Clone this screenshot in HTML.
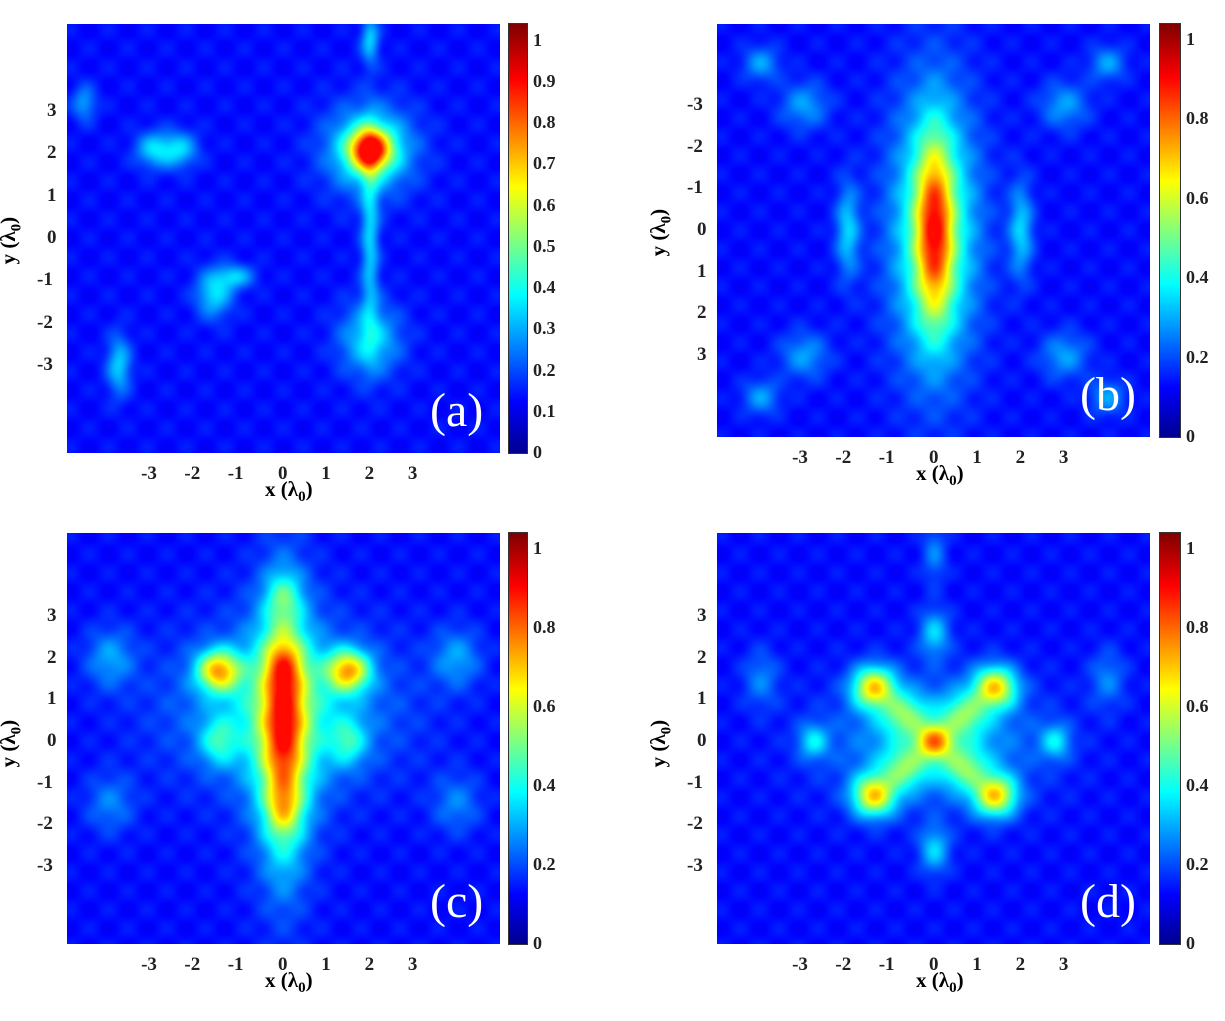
<!DOCTYPE html>
<html><head><meta charset="utf-8"><style>
body{margin:0;background:#fff;width:1225px;height:1021px;overflow:hidden;position:relative;font-family:"Liberation Serif",serif;}
#root div{position:absolute}
.tick{font-weight:bold;font-size:19px;color:#222;white-space:nowrap}
.cbt{font-size:18px;color:#222;font-weight:bold}
.lab{font-weight:bold;font-size:21px;white-space:nowrap}
.plab{color:#fff;font-size:48px}
canvas{position:absolute}
</style></head><body>
<div id="root"></div>
<script>
// panel data: blobs [x, y, amplitude, sigmaX, sigmaY] in lambda units
const blobsA=[[2,2.1,0.6,0.33,0.33],[2,2.1,0.3,0.7,0.7],[2,0,0.2,0.15,1.5],[2,-2.4,0.22,0.5,0.6],[-1.6,-1.3,0.22,0.3,0.4],[-1.1,-0.9,0.18,0.3,0.2],[-3,2.1,0.2,0.3,0.3],[-2.4,2.1,0.2,0.3,0.3],[-3.8,-3,0.2,0.2,0.5],[2,4.7,0.2,0.15,0.4],[-4.6,3.2,0.15,0.2,0.3]];
const blobsB=[[0,0,0.45,0.3,1.5],[0,0,0.35,0.7,2.3],[-2,0,0.2,0.2,0.8],[2,0,0.2,0.2,0.8],[-3,-3,0.15,0.4,0.4],[3,-3,0.15,0.4,0.4],[-3,3,0.15,0.4,0.4],[3,3,0.15,0.4,0.4],[-4,-4,0.15,0.3,0.3],[4,-4,0.15,0.3,0.3],[-4,4,0.15,0.3,0.3],[4,4,0.15,0.3,0.3]];
const blobsC=[[0,0.2,0.38,0.33,2.0],[0,1.8,0.15,0.3,0.4],[0,-1.6,0.15,0.3,0.4],[0,0.3,0.25,0.6,2.3],[-1.5,1.7,0.5,0.35,0.35],[1.5,1.7,0.5,0.35,0.35],[0,0.8,0.2,1.8,1.3],[-1.5,0,0.2,0.3,0.4],[1.5,0,0.2,0.3,0.4],[0,3.5,0.15,0.3,0.4],[-4,2,0.15,0.4,0.5],[4,2,0.15,0.4,0.5],[-4,-1.5,0.12,0.4,0.5],[4,-1.5,0.12,0.4,0.5]];
const blobsD=[[-1.4,1.3,0.5,0.35,0.35],[1.4,1.3,0.5,0.35,0.35],[-1.4,-1.3,0.5,0.35,0.35],[1.4,-1.3,0.5,0.35,0.35],[0,0,0.45,0.3,0.3],[-0.7,0.65,0.25,0.35,0.35],[0.7,0.65,0.25,0.35,0.35],[-0.7,-0.65,0.25,0.35,0.35],[0.7,-0.65,0.25,0.35,0.35],[0,0,0.2,1.6,1.0],[0,2.6,0.2,0.25,0.4],[0,-2.6,0.2,0.25,0.4],[-2.8,0,0.2,0.25,0.3],[2.8,0,0.2,0.25,0.3],[0,4.5,0.12,0.2,0.5],[-4,1.5,0.12,0.3,0.5],[4,1.5,0.12,0.3,0.5]];
const xTicks=[-3,-2,-1,0,1,2,3];
const yTicks=[3,2,1,0,-1,-2,-3];
const cbTicksA=[0,0.1,0.2,0.3,0.4,0.5,0.6,0.7,0.8,0.9,1];
const cbTicksB=[0,0.2,0.4,0.6,0.8,1];
const panels=[
 {id:'a',blobs:blobsA,x:67,y:24,w:433,h:429,cbx:509,cb:cbTicksA,flip:false,yt:[3,2,1,0,-1,-2,-3],cx:283,cy:238},
 {id:'b',blobs:blobsB,x:717,y:24,w:433,h:413,cbx:1160,cb:cbTicksB,flip:true,yt:[-3,-2,-1,0,1,2,3],cx:934,cy:230},
 {id:'c',blobs:blobsC,x:67,y:533,w:433,h:411,cbx:509,cb:cbTicksB,flip:false,yt:yTicks,cx:283,cy:741},
 {id:'d',blobs:blobsD,x:717,y:533,w:433,h:411,cbx:1160,cb:cbTicksB,flip:false,yt:yTicks,cx:934,cy:741}];
function jet(v){v=Math.max(0,Math.min(1,v));const r=Math.min(1,Math.max(0,1.5-Math.abs(4*v-3)));const g=Math.min(1,Math.max(0,1.5-Math.abs(4*v-2)));const b=Math.min(1,Math.max(0,1.5-Math.abs(4*v-1)));return [r*255|0,g*255|0,b*255|0];}
const root=document.getElementById('root');
function el(tag,cls,css,txt){const e=document.createElement(tag);if(cls)e.className=cls;Object.assign(e.style,css);if(txt!==undefined)e.innerHTML=txt;root.appendChild(e);return e;}
panels.forEach(p=>{
 const sx=43.3; const sy=(p.id==='a'?42.3:41.7);
 const xs=v=>p.cx+v*sx; const ys=v=>p.cy+(p.flip?v:-v)*sy;
 const c=el('canvas','',{left:p.x+'px',top:p.y+'px'});c.width=p.w;c.height=p.h;
 
 const ctx=c.getContext('2d');const img=ctx.createImageData(p.w,p.h);
 for(let j=0;j<p.h;j++)for(let i=0;i<p.w;i++){
  const lx=(p.x+i-p.cx)/sx; let ly=-(p.y+j-p.cy)/sy; if(p.flip)ly=-ly;
  let v=0.14+0.02*Math.cos(lx*7)*Math.cos(ly*7);
  p.blobs.forEach(b=>{v+=b[2]*Math.exp(-((lx-b[0])**2/(2*b[3]*b[3])+(ly-b[1])**2/(2*b[4]*b[4])));});
  v=Math.min(v,0.9);
  const col=jet(v/1.04);const k=(j*p.w+i)*4;img.data[k]=col[0];img.data[k+1]=col[1];img.data[k+2]=col[2];img.data[k+3]=255;}
 ctx.putImageData(img,0,0);
 const cbw=p.id==='a'||p.id==='c'?18:20;
 const cb=el('div','',{left:p.cbx+'px',top:p.y+'px',width:cbw+'px',height:p.h+'px',background:'linear-gradient(to top,#00008f,#0000ff 12%,#00ffff 37%,#ffff00 62%,#ff0000 87%,#800000)',outline:'1px solid #333'});
 
 const cmax=1.04;
 p.cb.forEach(t=>{const ty=p.y+p.h-(t/cmax)*p.h;const d=el('div','cbt',{left:(p.cbx+cbw+6)+'px',top:(ty-11)+'px'},String(t));
  });
 xTicks.forEach(t=>{const d=el('div','tick',{left:(xs(t)-(t<0?12:5))+'px',top:(p.y+p.h+10)+'px'},String(t));
  });
 p.yt.forEach(t=>{const d=el('div','tick',{left:(p.x-(t<0?30:20))+'px',top:(ys(t)-11)+'px'},String(t));
  });
 const xl=el('div','lab',{left:(p.cx-18)+'px',top:(p.y+p.h+24)+'px'},'x (&lambda;<sub style="font-size:15px">0</sub>)');
 
 const yl=el('div','lab',{left:(p.x-80)+'px',top:(p.cy-12)+'px',transform:'rotate(-90deg)'},'y (&lambda;<sub style="font-size:15px">0</sub>)');
 
 const pl=el('div','plab',{left:(p.x+p.w-70)+'px',top:(p.y+p.h-70)+'px'},'('+p.id+')');
 
});
</script>
</body></html>
